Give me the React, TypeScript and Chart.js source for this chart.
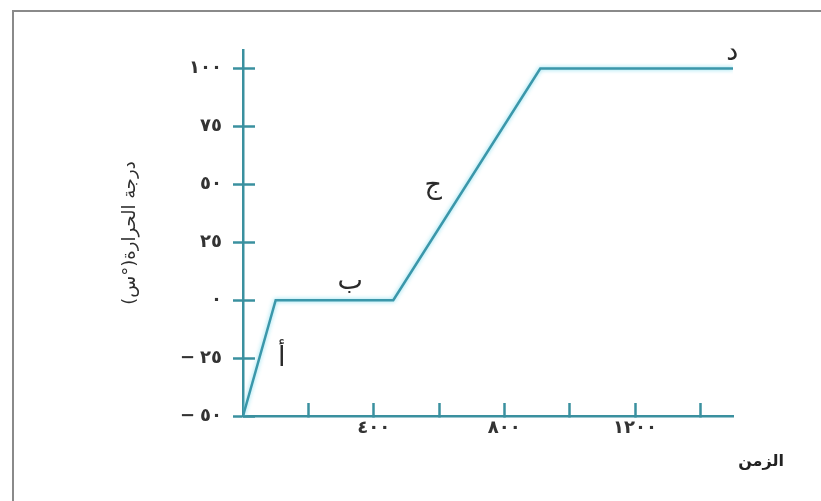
import { useEffect, useRef } from 'react';
import { Chart, registerables } from 'chart.js';

Chart.register(...registerables);

// Data
const timeValues = [0, 100, 460, 910, 1500];
const temperatureValues = [-50, 0, 0, 100, 100];
const xTickValues = [200, 400, 600, 800, 1000, 1200, 1400];
const xLabelledTicks = [400, 800, 1200];
const yTickValues = [-50, -25, 0, 25, 50, 75, 100];
const segmentLabels = ['أ', 'ب', 'ج', 'د'];
const segmentLabelX = [119, 328, 582, 1498];
const segmentLabelY = [-25.5, 8, 49.5, 106.5];
const xAxisTitle = 'الزمن';
const yAxisTitle = 'درجة الحرارة(°س)';

const X_MIN = 0;
const X_MAX = 1500;
const Y_MIN = -50;
const Y_MAX = 108;

const TEAL = '#3b97aa';
const AXIS = '#3a909f';
const FONT = "'DejaVu Sans', sans-serif";

const toArabicDigits = (n: number): string => {
  const s = String(Math.abs(n)).replace(/\d/g, (d) => '٠١٢٣٤٥٦٧٨٩'[Number(d)]);
  return n < 0 ? '−' + s : s;
};

const spacingPlugin = {
  id: 'digitSpacing',
  beforeDraw(chart: any) {
    chart.ctx.save();
    (chart.ctx as any).letterSpacing = '5px';
  },
  afterDraw(chart: any) {
    chart.ctx.restore();
  },
};

const labelPlugin = {
  id: 'segmentLabels',
  afterDraw(chart: any) {
    const { ctx, scales } = chart;
    const xs = scales.x;
    const ys = scales.y;
    ctx.save();
    (ctx as any).letterSpacing = '0px';
    ctx.fillStyle = '#2a2a2a';
    ctx.font = `27px ${FONT}`;
    ctx.textAlign = 'center';
    ctx.textBaseline = 'middle';
    segmentLabels.forEach((lbl, i) => {
      ctx.fillText(lbl, xs.getPixelForValue(segmentLabelX[i]), ys.getPixelForValue(segmentLabelY[i]));
    });
    ctx.font = `bold 16px ${FONT}`;
    ctx.fillStyle = '#222222';
    ctx.fillText(xAxisTitle, xs.right + 28, xs.top + 46);

    ctx.translate(130, (ys.top + ys.bottom) / 2);
    ctx.rotate(-Math.PI / 2);
    ctx.font = `18px ${FONT}`;
    ctx.fillStyle = '#2e2e2e';
    ctx.fillText(yAxisTitle, 0, 0);
    ctx.restore();
  },
};

const glowPlugin = {
  id: 'glow',
  beforeDatasetDraw(chart: any) {
    const ctx = chart.ctx;
    ctx.save();
    ctx.shadowColor = 'rgba(110, 215, 235, 0.9)';
    ctx.shadowBlur = 4;
  },
  afterDatasetDraw(chart: any) {
    chart.ctx.restore();
  },
};

export default function App() {
  const canvasRef = useRef<HTMLCanvasElement | null>(null);

  useEffect(() => {
    if (!canvasRef.current) return;
    const setYTicks = (scale: any) => {
      scale.ticks = yTickValues.map((v) => ({ value: v }));
    };
    const chart = new Chart(canvasRef.current, {
      type: 'line',
      data: {
        datasets: [
          {
            data: timeValues.map((x, i) => ({ x, y: temperatureValues[i] })),
            borderColor: TEAL,
            borderWidth: 2.5,
            pointRadius: 0,
            tension: 0,
            fill: false,
            xAxisID: 'x',
            yAxisID: 'y',
          },
        ],
      },
      plugins: [spacingPlugin, glowPlugin, labelPlugin],
      options: {
        animation: false,
        responsive: false,
        maintainAspectRatio: false,
        events: [],
        layout: { padding: { left: 0, top: 50, right: 88, bottom: 45 } },
        plugins: {
          legend: { display: false },
          tooltip: { enabled: false },
          title: { display: false },
        },
        scales: {
          x: {
            type: 'linear',
            position: 'bottom',
            min: X_MIN,
            max: X_MAX,
            afterBuildTicks: (scale: any) => {
              scale.ticks = xTickValues.map((v) => ({ value: v }));
            },
            afterFit: (scale: any) => {
              scale.height = 40;
            },
            ticks: {
              autoSkip: false,
              maxRotation: 0,
              padding: 15,
              color: '#333333',
              font: { family: FONT, size: 18, weight: 'bold' },
              callback: (v: any) => (xLabelledTicks.includes(Number(v)) ? toArabicDigits(Number(v)) : ''),
            },
            grid: {
              drawOnChartArea: false,
              drawTicks: true,
              tickLength: -13,
              tickColor: AXIS,
              tickWidth: 2.5,
            },
            border: { display: true, color: AXIS, width: 2.5 },
            title: { display: false },
          },
          y: {
            type: 'linear',
            position: 'left',
            min: Y_MIN,
            max: Y_MAX,
            afterBuildTicks: setYTicks,
            afterFit: (scale: any) => {
              scale.width = 243;
            },
            ticks: {
              autoSkip: false,
              padding: 11,
              color: '#333333',
              font: { family: FONT, size: 18, weight: 'bold' },
              callback: (v: any) => toArabicDigits(Number(v)),
            },
            grid: {
              drawOnChartArea: false,
              drawTicks: true,
              tickLength: 10,
              tickColor: AXIS,
              tickWidth: 2.5,
            },
            border: { display: true, color: AXIS, width: 2.5 },
            title: { display: false },
          },
          yin: {
            type: 'linear',
            position: { x: 0 },
            min: Y_MIN,
            max: Y_MAX,
            afterBuildTicks: setYTicks,
            ticks: { display: false },
            grid: {
              drawOnChartArea: false,
              drawTicks: true,
              tickLength: -12,
              tickColor: AXIS,
              tickWidth: 2.5,
            },
            border: { display: false },
            title: { display: false },
          },
        },
      } as any,
    });
    return () => chart.destroy();
  }, []);

  return (
    <div style={{ position: 'absolute', left: 0, top: 0, width: 821, height: 501, overflow: 'hidden', background: '#ffffff' }}>
      <div
        style={{
          position: 'absolute',
          left: 12,
          top: 10,
          width: 900,
          height: 600,
          borderLeft: '2px solid #8a8a8a',
          borderTop: '2px solid #8a8a8a',
        }}
      />
      <canvas ref={canvasRef} width={821} height={501} style={{ position: 'absolute', left: 0, top: 0, width: 821, height: 501 }} />
    </div>
  );
}
